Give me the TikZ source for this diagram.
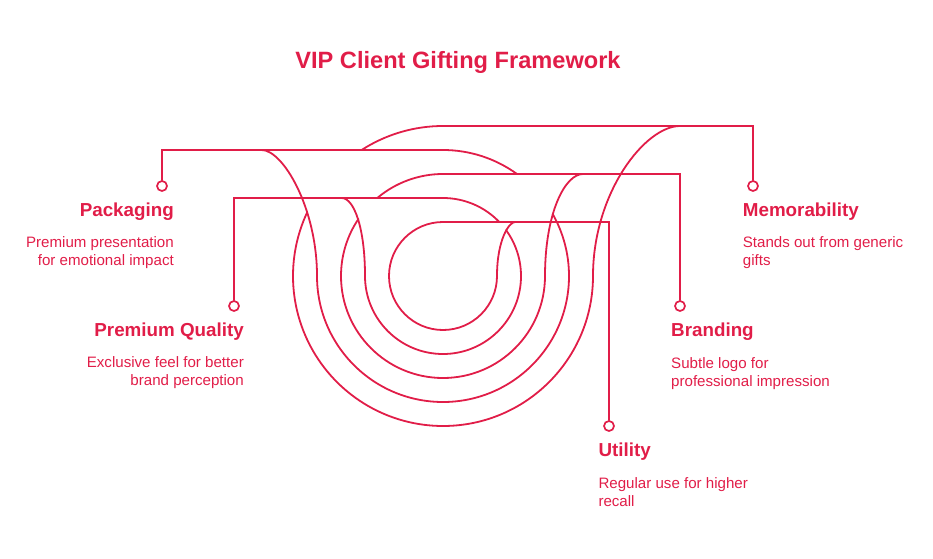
\documentclass[tikz,border=0pt]{standalone}
\usepackage{fontspec}
\setmainfont{Liberation Sans}
\definecolor{gift}{HTML}{E11D48}
\tikzset{
  track/.style={gift, line width=1.8pt, line cap=round},
  marker/.style={circle, draw=gift, fill=white, line width=1.7pt, minimum size=10pt, inner sep=0pt},
  head/.style={text=gift, font=\fontsize{18.8}{22}\selectfont\bfseries, inner sep=0pt},
  blurb/.style={text=gift, font=\fontsize{15.1}{17.8}\selectfont, inner sep=0pt},
}
\begin{document}
\begin{tikzpicture}[x=1pt,y=1pt]
    \useasboundingbox (0,0) rectangle (933,558);
    % Tops of the five rings, all centred on (443,282).
        \coordinate (top1) at (443,432);
        \coordinate (top2) at (443,408);
        \coordinate (top3) at (443,384);
        \coordinate (top4) at (443,360);
        \coordinate (top5) at (443,336);
    % The leads from each marker into its ring.
        \node[marker] (mem) at (753,372) {};
        \node[marker] (pkg) at (162,372) {};
        \node[marker] (brd) at (680,252) {};
        \node[marker] (prm) at (234,252) {};
        \node[marker] (utl) at (609,132) {};
        \draw[track] (mem.north) |- (top1) arc[start angle=90, end angle={180-asin(126/150)}, radius=150];
        \draw[track] (pkg.north) |- (top2) arc[start angle=90, end angle={asin(102/126)}, radius=126];
        \draw[track] (brd.north) |- (top3) arc[start angle=90, end angle={180-asin(78/102)}, radius=102];
        \draw[track] (prm.north) |- (top4) arc[start angle=90, end angle={asin(54/78)}, radius=78];
        \draw[track] (utl.north) |- (top5) arc[start angle=90, end angle=360, radius=54];
    % Below are the loops that drop off each lead and run round the bottom.
        \draw[track] (680,432) .. controls (645,432) and (593,365) .. (593,282) arc[start angle=0, end angle=-205, radius=150];
        \draw[track] (261.7,408) .. controls (283,408) and (317,350) .. (317,282) arc[start angle=180, end angle=389.5, radius=126];
        \draw[track] (583,384) .. controls (565,384) and (545,345) .. (545,282) arc[start angle=0, end angle=-214, radius=102];
        \draw[track] (341.7,360) .. controls (354,360) and (365,330) .. (365,282) arc[start angle=180, end angle=396, radius=78];
        \draw[track] (515,336) .. controls (509,336) and (497,318) .. (497,282);
    % Below nodes are the labels (blurbs sit on their last line).
        \node[text=gift, font=\fontsize{23.6}{28}\selectfont\bfseries, anchor=base] (title) at (458,489.7) {VIP Client Gifting Framework};
        \node[head, anchor=base east] (pkglab) at (174,341.3) {Packaging};
        \node[blurb, align=right, anchor=base east] (pkgtxt) at (174,292.3) {Premium presentation\\for emotional impact};
        \node[head, anchor=base west] (memlab) at (742.7,341.3) {Memorability};
        \node[blurb, align=left, anchor=base west] (memtxt) at (742.7,292.3) {Stands out from generic\\gifts};
        \node[head, anchor=base east] (prmlab) at (244,221.3) {Premium Quality};
        \node[blurb, align=right, anchor=base east] (prmtxt) at (244,173) {Exclusive feel for better\\brand perception};
        \node[head, anchor=base west] (brdlab) at (671,221.3) {Branding};
        \node[blurb, align=left, anchor=base west] (brdtxt) at (671,172) {Subtle logo for\\professional impression};
        \node[head, anchor=base west] (utllab) at (598.3,102) {Utility};
        \node[blurb, align=left, anchor=base west] (utltxt) at (598.3,52) {Regular use for higher\\recall};
\end{tikzpicture}
\end{document}
